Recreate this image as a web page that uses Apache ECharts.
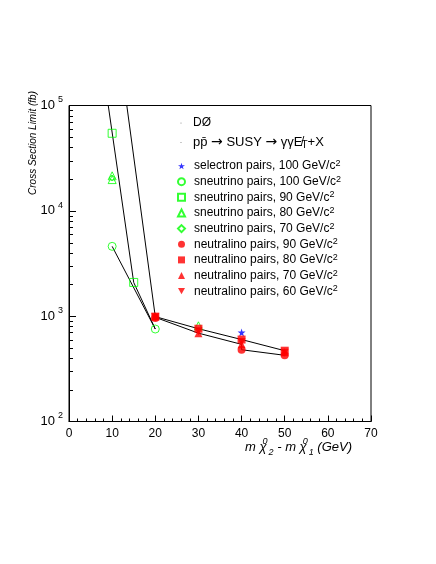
<!DOCTYPE html>
<html>
<head>
<meta charset="utf-8">
<script src="https://cdn.jsdelivr.net/npm/echarts@6/dist/echarts.min.js"></script>
<style>html,body{margin:0;padding:0;background:#fff}#c{width:436px;height:564px}</style>
</head>
<body>
<div id="c"></div>
<script>
// ---- data (x = m chi2 - m chi1 [GeV], y = cross section limit [fb]) ----
const selectron100 = [[40, 700]];
const sneutrino100 = [[10, 4600], [20, 755]];
const sneutrino90 = [[10, 54500], [15, 2090]];
const sneutrino80 = [[10, 21500], [10, 19800], [30, 810]];
const sneutrino70 = [[10, 20500]];
const neutralino90 = [[20, 960], [40, 480], [50, 425]];
const neutralino80 = [[20, 990], [30, 760], [40, 600], [50, 470]];
const neutralino70 = [[20, 1000], [30, 690], [40, 540], [50, 455]];
const neutralino60 = [[20, 975], [30, 720], [40, 570], [50, 450]];

const curveA = [[9.1, 100000], [15, 2090], [20, 755]];
const curveB = [[10, 4600], [20, 755]];
const curveC = [[13.4, 100000], [20, 990]];
const curveD = [[20, 990], [30, 760], [40, 600], [50, 470]];
const curveE = [[20, 975], [30, 690], [40, 540], [40, 480], [50, 425]];

const names = [
  'selectron pairs, 100 GeV/c²',
  'sneutrino pairs, 100 GeV/c²',
  'sneutrino pairs, 90 GeV/c²',
  'sneutrino pairs, 80 GeV/c²',
  'sneutrino pairs, 70 GeV/c²',
  'neutralino pairs, 90 GeV/c²',
  'neutralino pairs, 80 GeV/c²',
  'neutralino pairs, 70 GeV/c²',
  'neutralino pairs, 60 GeV/c²'
];

// ---- styling ----
const FONT = 'Liberation Sans, Arial, Helvetica, sans-serif';
const GREEN = '#00ff00', RED = '#ff0000', BLUE = '#0000ff';
const STAR = 'path://M50,0 L61,35 L98,35 L68,57 L79,91 L50,70 L21,91 L32,57 L2,35 L39,35 Z';
const DOWN = 'path://M0,0 L10,0 L5,9 Z';

function openStyle(c) { return { color: 'rgba(255,255,255,0)', borderColor: c, borderWidth: 1 }; }
function filled(c) { return { color: c, borderWidth: 0 }; }

const markerSpecs = [
  { data: selectron100, symbol: STAR, size: 8, style: filled(BLUE) },
  { data: sneutrino100, symbol: 'circle', size: 8, style: openStyle(GREEN) },
  { data: sneutrino90, symbol: 'rect', size: 8, style: openStyle(GREEN) },
  { data: sneutrino80, symbol: 'triangle', size: 8, style: openStyle(GREEN) },
  { data: sneutrino70, symbol: 'diamond', size: 6, style: openStyle(GREEN) },
  { data: neutralino90, symbol: 'circle', size: 8, style: filled(RED) },
  { data: neutralino80, symbol: 'rect', size: 8, style: filled(RED) },
  { data: neutralino70, symbol: 'triangle', size: 8, style: filled(RED) },
  { data: neutralino60, symbol: DOWN, size: 8, style: filled(RED) }
];

const series = [];
[curveA, curveB, curveC, curveD, curveE].forEach(function (c) {
  series.push({
    type: 'line', data: c, symbol: 'none', silent: true, z: 2,
    lineStyle: { color: '#000', width: 1 }
  });
});
markerSpecs.forEach(function (m, i) {
  series.push({
    name: names[i], type: 'scatter', data: m.data, symbol: m.symbol,
    symbolSize: m.size, itemStyle: m.style, z: 3
  });
});
// minor ticks of the log y axis (2..9 x 10^n)
const minorVals = [];
for (let d = 100; d < 100000; d *= 10) {
  for (let k = 2; k <= 9; k++) minorVals.push([0, k * d]);
}
series.push({
  type: 'custom', silent: true, data: minorVals, z: 5, clip: false,
  renderItem: function (params, api) {
    const p = api.coord([0, api.value(1)]);
    const y = Math.round(p[1]) + 0.5;
    return { type: 'line', shape: { x1: p[0], y1: y, x2: p[0] + 4, y2: y },
      style: { stroke: '#000', lineWidth: 1 } };
  }
});

const chart = echarts.init(document.getElementById('c'), null, { renderer: 'canvas' });
chart.setOption({
  animation: false,
  backgroundColor: '#fff',
  textStyle: { fontFamily: FONT },
  grid: { left: 69, right: 65, top: 105.5, bottom: 142.5, show: true,
    borderColor: '#000', borderWidth: 1, backgroundColor: 'transparent' },
  xAxis: {
    type: 'value', min: 0, max: 70, interval: 10,
    axisLine: { show: true, lineStyle: { color: '#000', width: 1 } },
    axisTick: { show: true, inside: true, length: 6, lineStyle: { color: '#000' } },
    minorTick: { show: true, splitNumber: 5, length: 3, lineStyle: { color: '#000' } },
    splitLine: { show: false },
    axisLabel: { color: '#000', fontSize: 12, fontFamily: FONT, margin: 6 }
  },
  yAxis: {
    type: 'log', logBase: 10, min: 100, max: 100000,
    axisLine: { show: true, lineStyle: { color: '#000', width: 1 } },
    axisTick: { show: true, inside: true, length: 7, lineStyle: { color: '#000' } },
    splitLine: { show: false },
    axisLabel: {
      color: '#000', margin: 6, fontFamily: FONT,
      formatter: function (v) {
        return '{b|10}{e|' + Math.round(Math.log10(v)) + '}';
      },
      rich: {
        b: { fontSize: 13, fontFamily: FONT, color: '#000', lineHeight: 20 },
        e: { fontSize: 9, fontFamily: FONT, color: '#000', lineHeight: 11,
          verticalAlign: 'top', padding: [0, 0, 0, 3] }
      }
    }
  },
  legend: {
    orient: 'vertical', left: 177, top: 159, padding: 0,
    itemWidth: 7, itemHeight: 7, itemGap: 2.65,
    data: names,
    selectedMode: false,
    formatter: function (n) { return '{t|' + n.replace('²', '') + '}{s|2}'; },
    textStyle: {
      color: '#000', fontFamily: FONT, fontSize: 12, padding: [0, 0, 0, 4],
      rich: {
        t: { fontSize: 12, fontFamily: FONT, color: '#000', lineHeight: 14 },
        s: { fontSize: 9, fontFamily: FONT, color: '#000', lineHeight: 8, verticalAlign: 'top' }
      }
    }
  },
  graphic: [
    { type: 'circle', shape: { cx: 181, cy: 123, r: 0.6 }, style: { fill: '#888' } },
    { type: 'circle', shape: { cx: 181, cy: 142.5, r: 0.6 }, style: { fill: '#888' } },
    { type: 'text', x: 193, y: 123,
      style: { text: 'DØ', font: '12px ' + FONT, fill: '#000', verticalAlign: 'middle' } },
    { type: 'text', x: 193, y: 142.5,
      style: { text: 'pp̄ {ar|→} SUSY {ar|→} γγE̸{sub|T}+X', font: '13px ' + FONT, fill: '#000',
        verticalAlign: 'middle',
        rich: {
          ar: { fontSize: 14, fontFamily: 'DejaVu Sans', fill: '#000', lineHeight: 16 },
          sub: { fontSize: 10, fontFamily: FONT, fill: '#000', lineHeight: 10,
            verticalAlign: 'bottom', padding: [0, 0, 0, -1] }
        } } },
    { type: 'text', x: 33, y: 143, rotation: Math.PI / 2,
      style: { text: 'Cross Section Limit (fb)', font: 'italic 10px ' + FONT, fill: '#000',
        align: 'center', verticalAlign: 'middle' } },
    { type: 'text', x: 352, y: 447,
      style: {
        text: '{t|m χ}{sp|0}{sb|2}{t| - m χ}{sp|0}{sb|1}{t| (GeV)}',
        align: 'right', verticalAlign: 'middle', font: 'italic 13px ' + FONT, fill: '#000',
        rich: {
          t: { font: 'italic 13px ' + FONT, fill: '#000', lineHeight: 20 },
          sp: { font: 'italic 9px ' + FONT, fill: '#000', lineHeight: 10, width: 0,
            verticalAlign: 'top', padding: [0, 0, 0, 1] },
          sb: { font: 'italic 9px ' + FONT, fill: '#000', lineHeight: 10,
            verticalAlign: 'bottom', padding: [0, 0, 0, 1] }
        }
      } }
  ],
  series: series
});
</script>
</body>
</html>
